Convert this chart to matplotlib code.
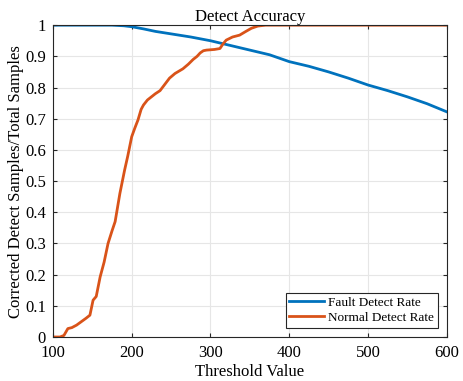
import matplotlib.pyplot as plt

plt.rcParams['font.family'] = ['Liberation Serif', 'DejaVu Serif']

# Umbral y tasas
umbral_falla = [100, 150, 175, 190, 200, 215, 230, 250, 275, 300, 325, 350, 375, 400,
                425, 450, 475, 500, 525, 550, 575, 600]
tasa_falla = [1.0, 1.0, 1.0, 0.998, 0.995, 0.988, 0.98, 0.972, 0.962, 0.95, 0.935, 0.92,
              0.905, 0.883, 0.868, 0.85, 0.83, 0.808, 0.79, 0.77, 0.748, 0.722]

umbral_normal = [100, 109, 114, 119, 124, 130, 136, 142, 147, 151, 155, 160, 165, 170,
                 175, 179, 185, 191, 195, 200, 204, 208, 212, 215, 220, 225, 230, 236,
                 242, 248, 255, 265, 272, 278, 283, 287, 291, 295, 305, 312, 316, 320,
                 328, 337, 345, 352, 360, 370, 390, 600]
tasa_normal = [0.0, 0.0, 0.005, 0.027, 0.03, 0.038, 0.049, 0.06, 0.07, 0.118, 0.13, 0.193,
               0.24, 0.30, 0.34, 0.37, 0.46, 0.535, 0.58, 0.642, 0.67, 0.696, 0.73, 0.744,
               0.76, 0.77, 0.78, 0.79, 0.81, 0.83, 0.845, 0.86, 0.875, 0.89, 0.90, 0.911,
               0.918, 0.92, 0.922, 0.925, 0.94, 0.952, 0.962, 0.968, 0.98, 0.99, 0.997,
               1.0, 1.0, 1.0]

fig = plt.figure(figsize=(4.64, 3.81), dpi=100)
ax = fig.add_axes([0.114, 0.1155, 0.849, 0.8185])

ax.plot(umbral_falla, tasa_falla, color='#0072BD', linewidth=2, label='Fault Detect Rate')
ax.plot(umbral_normal, tasa_normal, color='#D95319', linewidth=2, label='Normal Detect Rate')

ax.set_xlim(100, 600)
ax.set_ylim(0, 1)
ax.set_xticks([100, 200, 300, 400, 500, 600])
ax.set_yticks([0, 0.1, 0.2, 0.3, 0.4, 0.5, 0.6, 0.7, 0.8, 0.9, 1])
ax.set_yticklabels(['0', '0.1', '0.2', '0.3', '0.4', '0.5', '0.6', '0.7', '0.8', '0.9', '1'])
ax.tick_params(direction='in', labelsize=12, color='#262626', length=3, top=True, right=True)
ax.tick_params(axis='x', pad=6)
ax.tick_params(axis='y', pad=5)
ax.grid(True, color='#e6e6e6', linewidth=0.8)
ax.set_axisbelow(True)
for s in ax.spines.values():
    s.set_color('#262626')
    s.set_linewidth(0.8)

ax.set_title('Detect Accuracy', fontsize=12, pad=3)
ax.set_xlabel('Threshold Value', fontsize=12, labelpad=2)
ax.set_ylabel('Corrected Detect Samples/Total Samples', fontsize=12)
ax.yaxis.set_label_coords(-0.074, 0.5)

leg = ax.legend(loc='lower right', fontsize=9.5, fancybox=False, edgecolor='#262626',
                framealpha=1, borderpad=0.3, handlelength=2.6, handletextpad=0.3,
                labelspacing=0.2, borderaxespad=0.7)
leg.get_frame().set_linewidth(0.8)

plt.savefig('out.png', dpi=100)
